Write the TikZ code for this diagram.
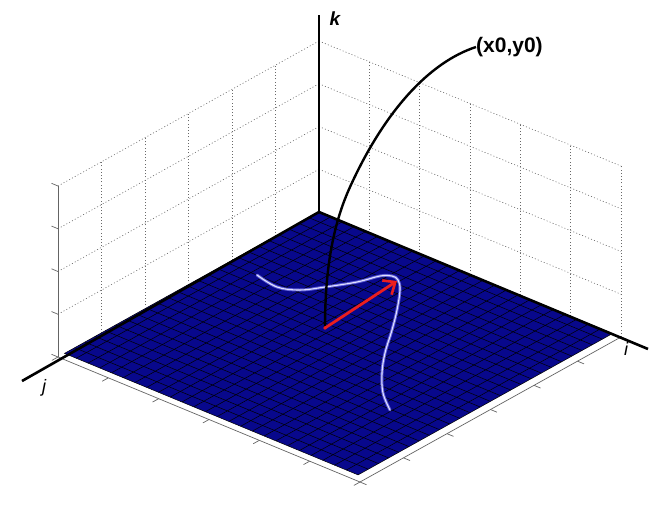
\documentclass[tikz,border=0pt]{standalone}
\usepackage{fontspec}
\setmainfont{Liberation Sans}
\usetikzlibrary{calc,arrows.meta}
\definecolor{navy}{RGB}{8,8,140}
\definecolor{axgray}{RGB}{100,100,100}
\definecolor{gridgray}{RGB}{105,105,105}
\definecolor{pathout}{RGB}{95,95,215}
\definecolor{pathin}{RGB}{225,225,255}
\definecolor{arrowred}{RGB}{235,30,30}
\begin{document}
\begin{tikzpicture}[x=1pt,y=-1pt,
  wallgrid/.style={gridgray, line width=0.6pt, dash pattern=on 1pt off 2.2pt},
  axisline/.style={axgray, line width=0.7pt},
  planegrid/.style={black, line width=0.5pt},
  thickaxis/.style={black, line width=2.6pt},
  curveout/.style={pathout, line width=3pt, line cap=round},
  curvein/.style={pathin, line width=1.1pt, line cap=round},
  vecarrow/.style={arrowred, line width=2.8pt, -{Straight Barb[length=10pt,width=17pt,line width=2.6pt]}},
  arcline/.style={black, line width=2.4pt},
  axlabel/.style={font=\fontsize{18}{18}\selectfont\itshape, inner sep=0pt}]
\useasboundingbox (0,0) rectangle (659,504);
\def\H{171}
\coordinate (O) at (319,212);
\coordinate (L) at (58,357);
\coordinate (R) at (621,337);
\coordinate (F) at ($(L)+(R)-(O)$);
% back walls (dotted grid)
\foreach \t in {1,...,5} \draw[wallgrid] ($(O)!\t/6!(L)$) -- ++(0,-\H);
\foreach \t in {1,...,6} \draw[wallgrid] ($(O)!\t/6!(R)$) -- ++(0,-\H);
\foreach \k in {1,...,4} {
  \draw[wallgrid] ($(O)+(0,-\k*\H/4)$) -- ($(L)+(0,-\k*\H/4)$);
  \draw[wallgrid] ($(O)+(0,-\k*\H/4)$) -- ($(R)+(0,-\k*\H/4)$);
}
% box axes with ticks
\draw[axisline] (L) -- (F) -- (R);
\draw[axisline] (L) -- ++(0,-\H);
\foreach \t in {0,...,6} {
  \draw[axisline] ($(L)!\t/6!(F)$) -- ++(-6.1,3.4);
  \draw[axisline] ($(F)!\t/6!(R)$) -- ++(6.5,2.7);
}
\foreach \k in {0,...,4} \draw[axisline] ($(L)+(0,-\k*\H/4)$) -- ++(-6.5,-2.7);
% plane
\coordinate (PL) at ($(O)!0.975!(L)$);
\coordinate (PR) at ($(O)!0.972!(R)$);
\coordinate (PF) at ($(PL)+(PR)-(O)$);
\fill[navy] (O) -- (PL) -- (PF) -- (PR) -- cycle;
\foreach \t in {1,...,24} {
  \draw[planegrid] ($(O)!\t/25!(PL)$) -- ($(PR)!\t/25!(PF)$);
  \draw[planegrid] ($(O)!\t/25!(PR)$) -- ($(PL)!\t/25!(PF)$);
}
\draw[planegrid] (O) -- (PL) -- (PF) -- (PR) -- cycle;
% main axes
\coordinate (jend) at (22,381);
\coordinate (iend) at (648,349);
\coordinate (kend) at (319,15);
\draw[thickaxis] (jend) -- (O) -- (iend);
\draw[thickaxis] (O) -- (kend);
% trajectory on plane
\draw[curveout] plot[smooth, tension=0.6] coordinates {(257,275) (277,287) (300,290) (325,287) (357,282) (380,276) (392,276) (398,280) (400,290) (397,310) (392,330) (385,353) (382,373) (383,393) (390,410)};
\draw[curvein] plot[smooth, tension=0.6] coordinates {(257,275) (277,287) (300,290) (325,287) (357,282) (380,276) (392,276) (398,280) (400,290) (397,310) (392,330) (385,353) (382,373) (383,393) (390,410)};
% labels
\node[font=\fontsize{19}{19}\selectfont\bfseries\itshape, inner sep=0pt] (klbl) at (335,19) {k};
\node[axlabel] (ilbl) at (626,349) {i};
\node[axlabel] (jlbl) at (44,388) {j};
\node[font=\fontsize{21}{21}\selectfont\bfseries, anchor=west, inner sep=0pt] (xy) at (476,47) {(x0,y0)};
% point, arc and vector
\coordinate (p) at (325,328);
\coordinate (a) at (397,281);
\coordinate (cm) at (350,187);
\draw[arcline] (xy.west) .. controls (430,62) and (385,110) .. (cm) .. controls (330,231) and (325,280) .. (p);
\draw[vecarrow] (p) -- (a);
\fill[arrowred] (p) circle (1.8);
\end{tikzpicture}
\end{document}
